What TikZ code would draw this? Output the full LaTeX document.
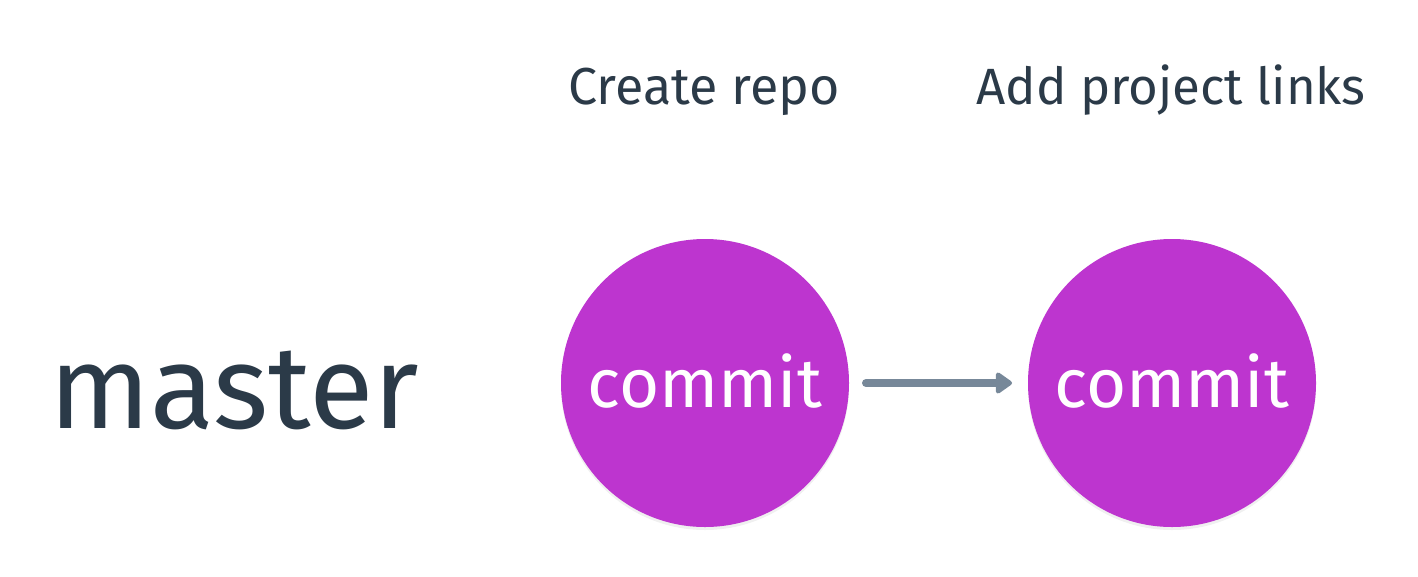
\documentclass[tikz,border=0pt]{standalone}
\usepackage{fontspec}
\setmainfont{Fira Sans}
\usetikzlibrary{arrows.meta,shadows}
\definecolor{ink}{HTML}{2B3A48}
\definecolor{commitpurple}{HTML}{BD35CF}
\definecolor{arrowgray}{HTML}{778899}
\tikzset{
  commitnode/.style={circle, fill=commitpurple, minimum size=288pt, inner sep=0pt,
    text=white, font=\fontsize{69}{80}\selectfont, text height=48pt, text depth=0pt,
    drop shadow={opacity=0.12, shadow xshift=0pt, shadow yshift=-3pt}},
  msgtext/.style={text=ink, font=\fontsize{52}{60}\selectfont, inner sep=0pt},
  branchtext/.style={text=ink, font=\fontsize{118}{130}\selectfont, inner sep=0pt},
  linkarrow/.style={draw=arrowgray, line width=8pt, line cap=round,
    -{Triangle[length=18pt,width=24pt,round]}}
}
\begin{document}
\begin{tikzpicture}[x=1pt,y=-1pt]
\useasboundingbox (0,0) rectangle (1418,576);
\node[commitnode] (c1) at (705,383) {commit};
\node[commitnode] (c2) at (1172,383) {commit};
\node[msgtext, anchor=base] (m1) at (704,104) {Create repo};
\node[msgtext, anchor=base] (m2) at (1171,104) {\fontsize{51}{60}\selectfont Add project links};
\node[branchtext, anchor=base west] (br) at (49,428) {master};
\coordinate (a1) at (866,383);
\coordinate (a2) at (1012,383);
\draw[linkarrow] (a1) -- (a2);
\end{tikzpicture}
\end{document}
